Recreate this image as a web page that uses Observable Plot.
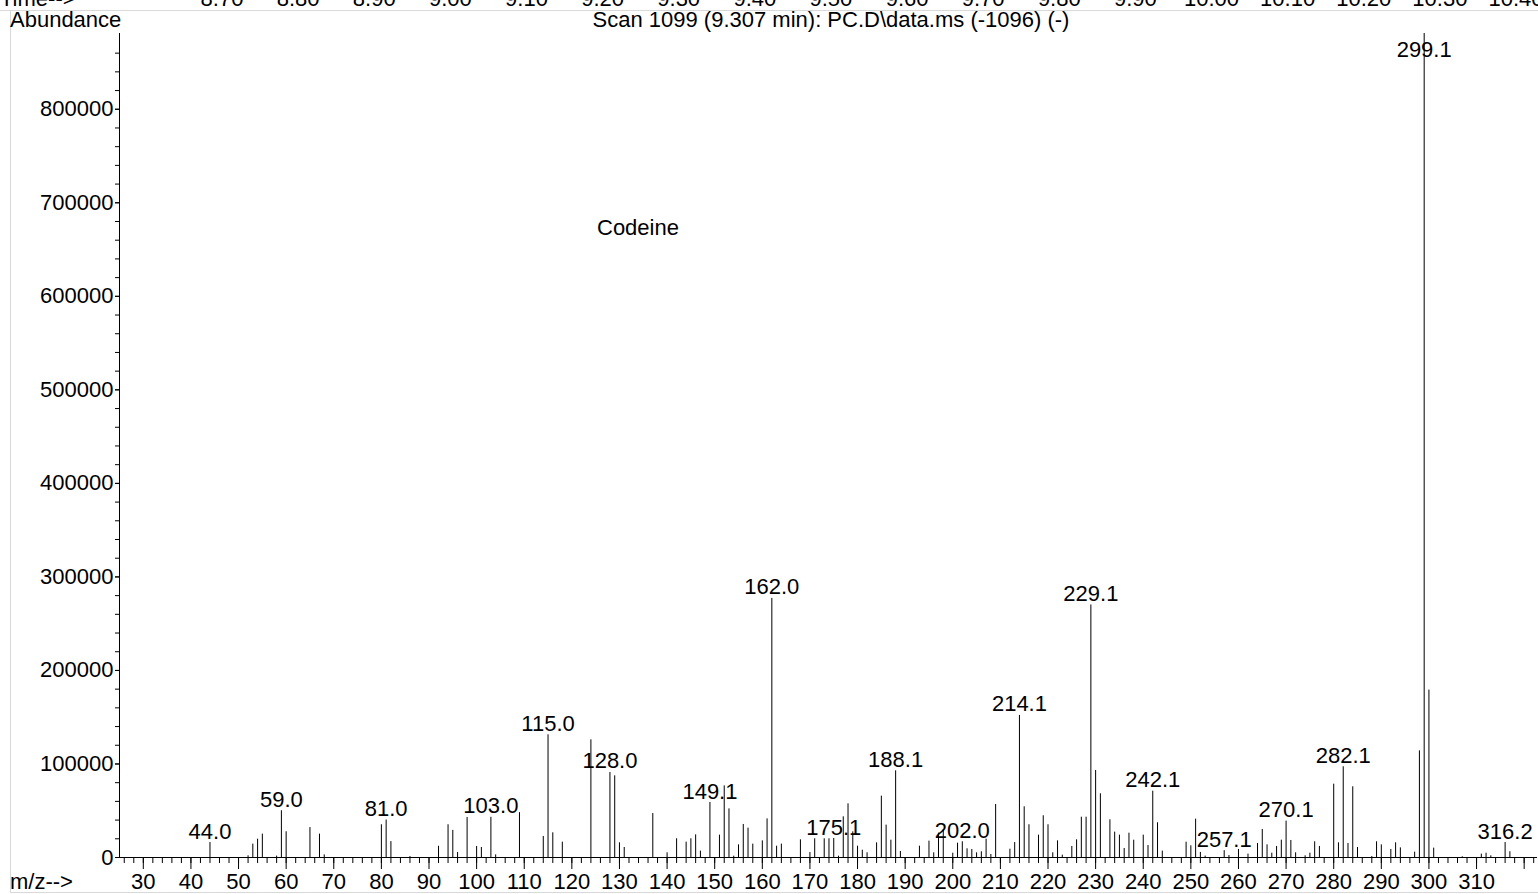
<!DOCTYPE html>
<html>
<head>
<meta charset="utf-8">
<script src="https://cdn.jsdelivr.net/npm/d3@7"></script>
<script src="https://cdn.jsdelivr.net/npm/@observablehq/plot@0.6"></script>
<style>
  html, body { margin: 0; padding: 0; background: #fff; }
  #wrap { position: relative; width: 1538px; height: 894px; overflow: hidden; }
  #chart, #overlay { position: absolute; left: 0; top: 0; }
</style>
</head>
<body>
<div id="wrap"><div id="chart"></div><svg id="overlay" width="1538" height="894"></svg></div>
<script>
// ---- data ----
const mz = [44,52,53,54,55,58,59,60,65,67,68,80,81,82,86,92,94,95,96,98,100,101,103,104,109,114,115,116,118,124,128,129,130,131,137,140,142,144,145,146,147,149,151,152,153,154,155,156,157,158,160,161,162,163,164,168,170,171,173,174,175,176,177,178,179,180,181,182,184,185,186,187,188,189,193,195,196,197,198,200,201,202,203,204,205,206,207,208,209,212,213,214,215,216,218,219,220,221,222,223,225,226,227,228,229,230,231,233,234,235,236,237,238,240,241,242,243,244,249,250,251,252,253,257,258,260,262,264,265,266,267,268,269,270,271,272,274,275,276,277,280,281,282,283,284,285,288,289,290,292,293,294,297,298,299,300,301,307,311,312,313,316,317];
const abundance = [16000,1800,14300,19600,25000,1500,50000,27500,32000,25000,2800,35000,40000,17000,1000,12000,35000,29000,5300,42800,11800,10700,43000,2800,48000,22500,131200,26400,16400,125800,90900,87300,15700,10700,47000,5000,20000,16400,20000,24200,6800,58800,23900,76600,52000,1400,13500,35300,31400,14300,17800,41300,277000,12100,14300,18900,5300,20000,20000,20000,20300,1400,43500,57400,27400,12100,7800,5000,15700,65600,34600,18500,92700,6400,12100,17500,5000,26000,30000,4600,15300,16800,9300,8600,5000,6100,19600,3200,56700,8900,16000,151900,54200,35000,23900,44600,35000,5000,17800,2500,11800,18900,43100,43100,270000,93000,68100,40300,27100,23900,9600,26000,18500,23900,12800,70900,37100,6800,16400,12500,41000,5400,1500,7300,2100,8600,3600,15000,30000,13500,4600,11800,18500,38900,18200,5000,1800,4600,16800,11800,78400,15700,97000,15000,75600,10700,1000,16800,13500,8600,15700,10300,5700,114000,881000,179000,10000,800,3600,4600,1800,16000,6100];
const labelMz = [44,59,81,103,115,128,149,162,175,188,202,214,229,242,257,270,282,299,316];
const labelText = ["44.0","59.0","81.0","103.0","115.0","128.0","149.1","162.0","175.1","188.1","202.0","214.1","229.1","242.1","257.1","270.1","282.1","299.1","316.2"];
const xMajorTicks = d3.range(30, 321, 10);
const xMinorTicks = d3.range(26, 323, 2);
const yMajorTicks = d3.range(0, 800001, 100000);
const yMinorTicks = d3.range(20000, 860001, 20000);
const timeLabels = ["8.70","8.80","8.90","9.00","9.10","9.20","9.30","9.40","9.50","9.60","9.70","9.80","9.90","10.00","10.10","10.20","10.30","10.40"];
const title = "Scan 1099 (9.307 min): PC.D\\data.ms (-1096) (-)";
const compound = "Codeine";

const peaks = mz.map((m, i) => ({mz: m, ab: abundance[i]}));
const abByMz = new Map(peaks.map(d => [d.mz, d.ab]));
const labels = labelMz.map((m, i) => ({mz: m, ab: abByMz.get(m), text: labelText[i]}));

const FONT = "'Liberation Sans', Arial, sans-serif";
const FS = 22;

const plot = Plot.plot({
  width: 1538, height: 894,
  marginLeft: 119, marginRight: 1, marginTop: 33, marginBottom: 37,
  style: {fontFamily: FONT, fontSize: FS + "px", color: "black", background: "transparent", overflow: "visible"},
  x: {domain: [25, 322.8]},
  y: {domain: [0, 881000]},
  marks: [
    Plot.ruleX(peaks, {x: "mz", y1: 0, y2: "ab", stroke: "black", strokeWidth: 1}),
    Plot.text(labels, {x: "mz", y: d => Math.min(d.ab, 852000), text: "text", dy: -4, lineAnchor: "bottom", fill: "black", fontSize: FS}),
    Plot.axisX({ticks: xMinorTicks, tickSize: 6, tickFormat: () => "", label: null, stroke: "black"}),
    Plot.axisX({ticks: xMajorTicks, tickSize: 12, tickPadding: 4, tickFormat: d => d <= 310 ? String(d) : "", label: null, stroke: "black", fill: "black"}),
    Plot.axisY({ticks: yMinorTicks, tickSize: 4, tickFormat: () => "", label: null, stroke: "black"}),
    Plot.axisY({ticks: yMajorTicks, tickSize: 4, tickPadding: 2, tickFormat: d => String(d), label: null, stroke: "black", fill: "black"}),
    Plot.ruleY([0], {stroke: "black"}),
    Plot.ruleX([25], {stroke: "black"})
  ]
});
document.getElementById("chart").appendChild(plot);

// ---- overlay annotations (frame lines, header strip, titles) ----
const ov = d3.select("#overlay");
ov.append("line").attr("x1", 0).attr("x2", 1538).attr("y1", 10.5).attr("y2", 10.5).attr("stroke", "#d9d9d9");
ov.append("line").attr("x1", 10.5).attr("x2", 10.5).attr("y1", 11).attr("y2", 892).attr("stroke", "#d9d9d9");
ov.append("line").attr("x1", 10).attr("x2", 1538).attr("y1", 892.5).attr("y2", 892.5).attr("stroke", "#d9d9d9");
const txt = (x, y, s, anchor) => ov.append("text").attr("x", x).attr("y", y)
  .attr("font-family", FONT).attr("font-size", FS).attr("fill", "black")
  .attr("text-anchor", anchor || "start").text(s);
txt(0, 6, "Time-->");
const tScale = d3.scaleLinear().domain([0, timeLabels.length - 1]).range([222, 1516]);
timeLabels.forEach((t, i) => txt(tScale(i), 6, t, "middle"));
txt(10, 27, "Abundance");
txt(831, 27, title, "middle");
txt(597, 235, compound);
txt(10, 889, "m/z-->");
</script>
</body>
</html>
